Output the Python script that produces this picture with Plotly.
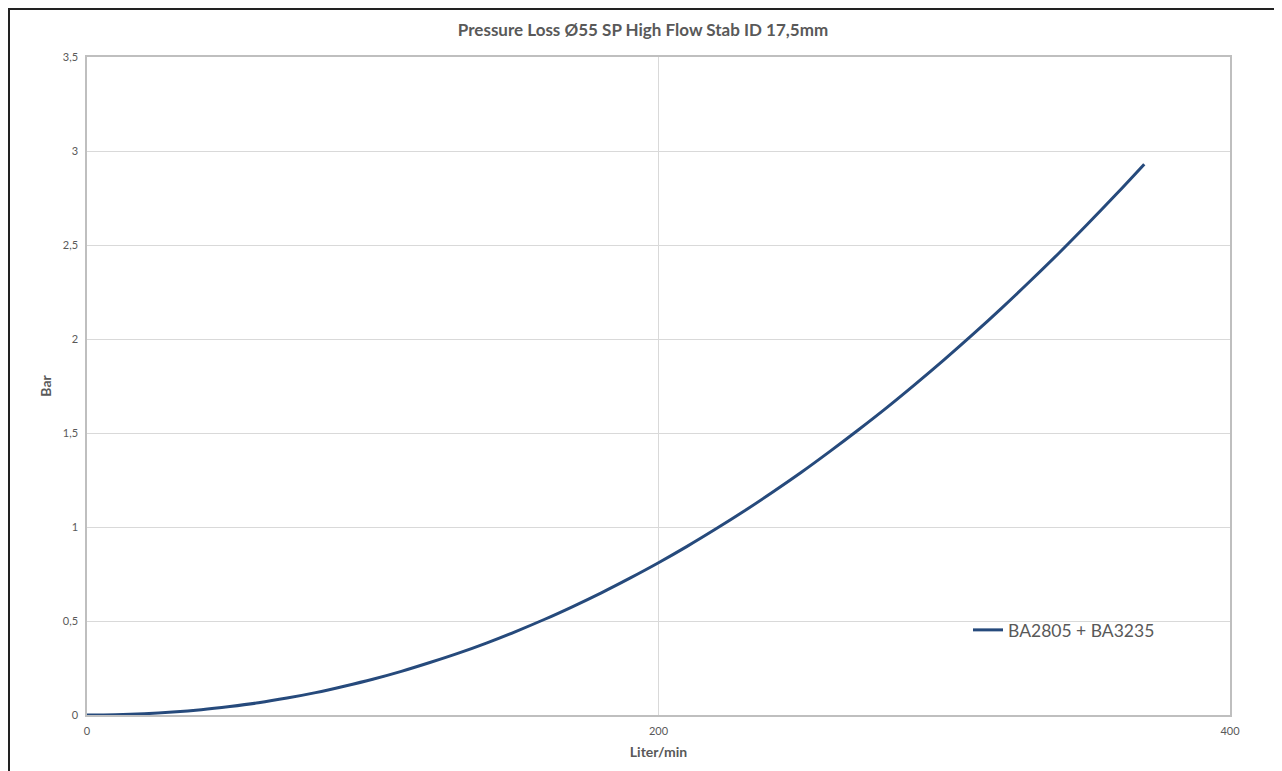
import plotly.graph_objects as go

flow = [0, 10, 20, 30, 40, 50, 60, 70, 80, 90, 100, 110, 120, 130, 140, 150, 160, 170, 180, 190,
        200, 210, 220, 230, 240, 250, 260, 270, 280, 290, 300, 310, 320, 330, 340, 350, 360, 370]
bar = [0, 0.0015, 0.0066, 0.0154, 0.028, 0.045, 0.065, 0.090, 0.119, 0.153, 0.190, 0.232,
       0.279, 0.329, 0.384, 0.444, 0.508, 0.577, 0.650, 0.728, 0.810, 0.897, 0.989, 1.085,
       1.186, 1.291, 1.402, 1.517, 1.636, 1.761, 1.890, 2.024, 2.163, 2.307, 2.455, 2.609,
       2.767, 2.930]
series_name = "BA2805 + BA3235"
title_text = "Pressure Loss Ø55 SP High Flow Stab ID 17,5mm"
x_ticks = [0, 200, 400]
y_ticks = [0, 0.5, 1, 1.5, 2, 2.5, 3, 3.5]

FONT = "Lato, 'Open Sans', sans-serif"
GREY = "#595959"

# page body adds ~8px offset; compensate in margins
L, T, R, B = 79, 49, 60, 64
PW, PH = 1143, 658

fig = go.Figure()
fig.add_trace(go.Scatter(
    x=flow, y=bar, mode="lines", name=series_name,
    line=dict(color="#264a7c", width=3, shape="spline", smoothing=1),
))

fig.update_layout(
    width=1282, height=771,
    margin=dict(l=L, r=R, t=T, b=B),
    paper_bgcolor="white", plot_bgcolor="white",
    separators=", ",
    font=dict(family=FONT, color=GREY),
    title=dict(text="<b>" + title_text + "</b>", x=(643 - 8 - L) / PW, xanchor="center",
               xref="paper",
               y=1 - 22 / 771, yanchor="middle",
               font=dict(size=17, color=GREY, family=FONT)),
    showlegend=True,
    legend=dict(x=(968 - 87) / PW, y=(715 - 630) / PH, xanchor="left", yanchor="middle",
                bgcolor="rgba(0,0,0,0)", font=dict(size=17.5, color=GREY, family=FONT),
                itemwidth=30, tracegroupgap=0),
    xaxis=dict(range=[0, 400], tickvals=x_ticks, showgrid=True, gridcolor="#d9d9d9",
               showline=True, linecolor="#bfbfbf", linewidth=1.5, mirror=True,
               ticks="", zeroline=False, tickfont=dict(size=11, color=GREY),
               ticklabelstandoff=5,
               title=dict(text="<b>Liter/min</b>", font=dict(size=14, color=GREY), standoff=11)),
    yaxis=dict(range=[0, 3.5], tickvals=y_ticks, showgrid=True, gridcolor="#d9d9d9",
               showline=True, linecolor="#bfbfbf", linewidth=1.5, mirror=True,
               ticks="", zeroline=False, tickfont=dict(size=11, color=GREY),
               ticklabelstandoff=5,
               title=dict(text="<b>Bar</b>", font=dict(size=14, color=GREY), standoff=8)),
)

# outer chart frame (figure pixel coords -> paper coords)
fig.add_shape(type="rect", xref="paper", yref="paper",
              x0=(1 - L) / PW, x1=(1271 - L) / PW,
              y0=(T + PH - 800) / PH, y1=(T + PH - 1) / PH,
              line=dict(color="#222222", width=2), fillcolor="rgba(0,0,0,0)", layer="below")

fig.write_html("out.html")
